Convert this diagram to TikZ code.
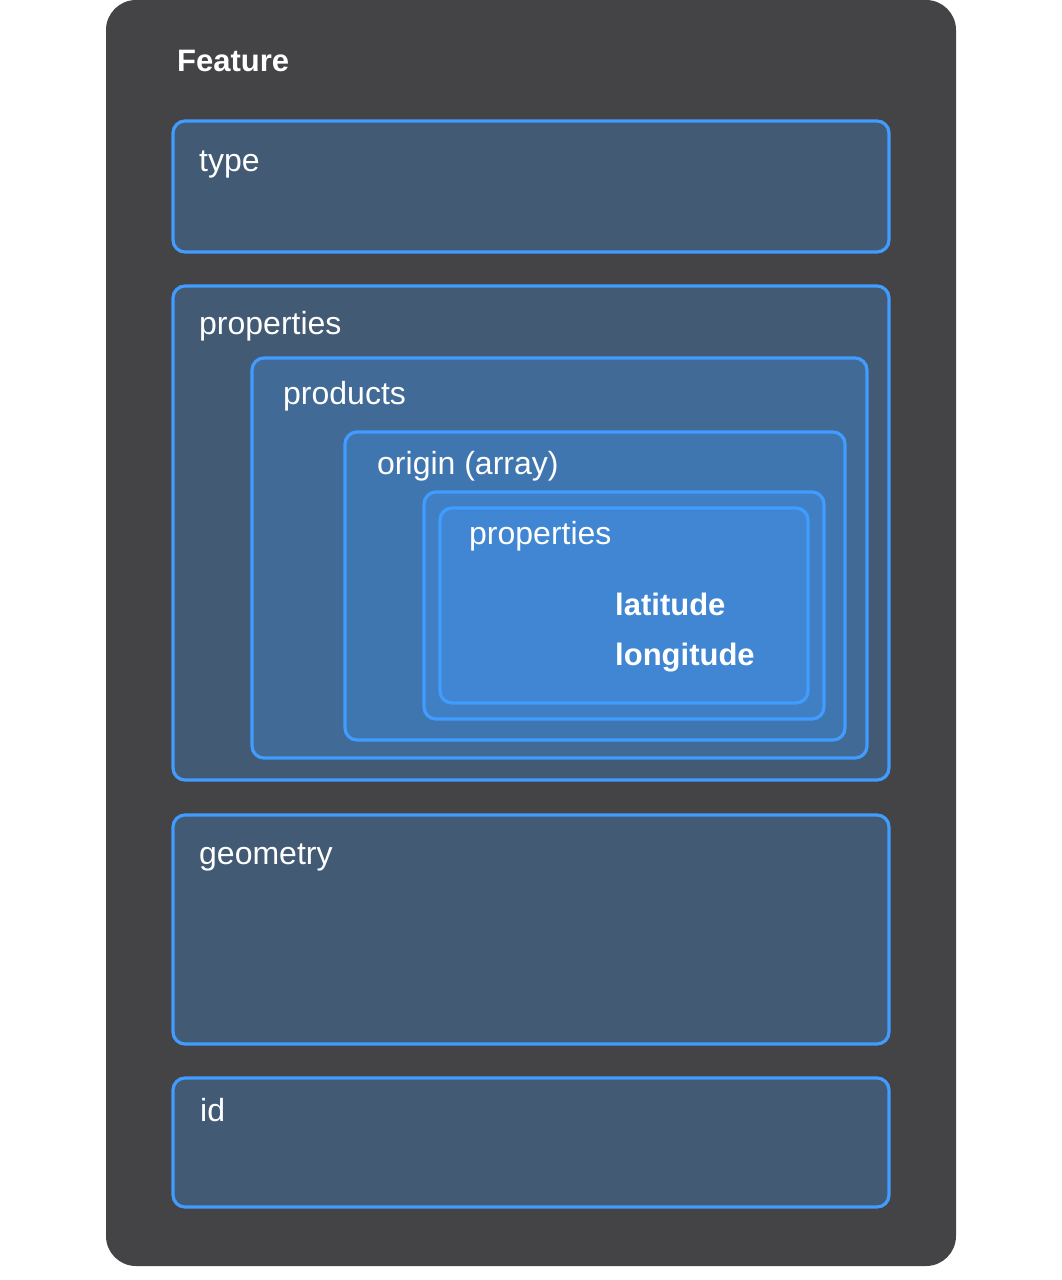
\documentclass[tikz,border=0pt]{standalone}
\usepackage{fontspec}
\setmainfont{Liberation Sans}
\definecolor{panel}{HTML}{444446}
\definecolor{accent}{HTML}{409CFF}
\begin{document}
\begin{tikzpicture}[x=1pt,y=-1pt,
  box/.style={draw=accent, line width=3.2pt, rounded corners=12pt,
              fill=accent, fill opacity=0.25, draw opacity=1},
  lbl/.style={anchor=base west, text=white, inner sep=0pt, font=\fontsize{32}{38}\selectfont},
  blbl/.style={lbl, font=\fontsize{31}{37}\selectfont\bfseries}]
  \useasboundingbox (0,0) rectangle (1062,1280);
  \fill[white] (0,0) rectangle (1062,1280);
  % outer card
  \fill[panel, rounded corners=30pt] (106,0) rectangle (956,1266);
  \node[blbl] (feature) at (177,71) {Feature};
  % top-level members
  \draw[box] (173,121) rectangle (889,252);
  \node[lbl] (type) at (199,171) {type};
  \draw[box] (173,286) rectangle (889,780);
  \node[lbl] (props) at (199,334) {properties};
  \draw[box] (252,358) rectangle (867,758);
  \node[lbl] (products) at (283,404) {products};
  \draw[box] (345,432) rectangle (845,740);
  \node[lbl] (origin) at (377,474) {origin (array)};
  \draw[box] (424,492) rectangle (824,719);
  \draw[box] (440,508) rectangle (808,703);
  \node[lbl] (innerprops) at (469,544) {properties};
  \node[blbl] (lat) at (615,615) {latitude};
  \node[blbl] (lon) at (615,665) {longitude};
  \draw[box] (173,815) rectangle (889,1044);
  \node[lbl] (geometry) at (199,864) {geometry};
  \draw[box] (173,1078) rectangle (889,1207);
  \node[lbl] (id) at (200,1121) {id};
\end{tikzpicture}
\end{document}
